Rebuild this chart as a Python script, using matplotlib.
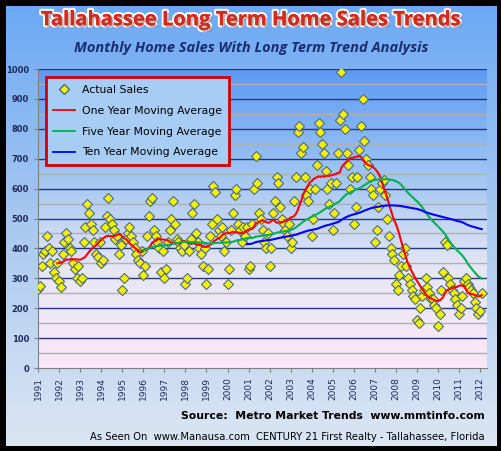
import numpy as np
import pandas as pd
import matplotlib
matplotlib.use("Agg")
import matplotlib.pyplot as plt
import matplotlib.patheffects as pe
from matplotlib.lines import Line2D
from matplotlib.colors import LinearSegmentedColormap

years = list(range(1991, 2013))
sales = {
1991: [265,275,340,380,390,440,400,350,390,320,300,350],
1992: [290,270,380,420,450,430,400,390,350,330,300,340],
1993: [290,300,420,470,550,520,480,460,420,380,370,420],
1994: [350,360,470,510,570,500,480,460,430,440,380,410],
1995: [260,300,430,450,470,440,420,400,380,360,350,390],
1996: [310,340,440,510,560,570,460,440,420,400,320,390],
1997: [300,330,420,460,500,560,480,430,420,400,390,410],
1998: [280,300,390,430,520,550,450,420,400,380,340,400],
1999: [280,330,440,480,610,590,500,460,440,470,390,420],
2000: [280,330,460,520,580,600,480,460,420,470,440,470],
2001: [330,340,480,600,710,620,520,500,460,420,400,450],
2002: [340,400,520,560,640,620,540,500,480,460,440,480],
2003: [400,420,560,640,790,810,720,740,640,580,560,600],
2004: [440,500,600,680,820,790,750,720,660,600,550,620],
2005: [460,520,620,720,830,990,850,800,720,680,600,640],
2006: [480,540,640,730,810,900,760,700,680,640,600,580],
2007: [420,460,540,600,620,630,580,500,440,400,380,360],
2008: [280,260,310,340,380,400,340,300,280,260,240,230],
2009: [160,150,200,240,260,300,270,250,230,230,210,200],
2010: [140,180,260,320,420,410,300,280,260,250,230,210],
2011: [180,200,240,290,300,280,270,260,250,220,200,180],
2012: [190,250],
}
t, v = [], []
for y in years:
    for m, val in enumerate(sales[y]):
        t.append(y + m / 12)
        v.append(val)
s = pd.Series(v, index=t)
ma1 = s.rolling(12).mean()
ma5 = s.rolling(60).mean()
ma10 = s.rolling(120).mean()

fig = plt.figure(figsize=(5.02, 4.51), dpi=100)
bg = fig.add_axes([0, 0, 1, 1], zorder=-10)
grad = np.linspace(0, 1, 256).reshape(-1, 1)
cm_fig = LinearSegmentedColormap.from_list("f", ["#6aa8f5", "#a9c9f0", "#dde7f4"])
bg.imshow(grad, aspect="auto", cmap=cm_fig, extent=[0, 1, 0, 1], origin="upper")
bg.set_xlim(0, 1); bg.set_ylim(0, 1); bg.axis("off")
bg.add_patch(plt.Rectangle((0.004, 0.005), 0.992, 0.99, fill=False, ec="black", lw=5))

ax = fig.add_axes([0.076, 0.184, 0.894, 0.663])
cm_ax = LinearSegmentedColormap.from_list("a", ["#5b9af5", "#9cc3f2", "#e6e6f5", "#fbe8f8"])
ax.imshow(grad, aspect="auto", cmap=cm_ax, extent=[1991, 2012.33, 0, 1000], origin="upper", zorder=0)
ax.set_xlim(1991, 2012.33); ax.set_ylim(0, 1000)
for yv in range(50, 1000, 100):
    ax.axhline(yv, color="#b0b0b0", lw=1, zorder=1)
for yv in range(100, 1001, 100):
    ax.axhline(yv, color="#1f3a7a", lw=1, zorder=1)

ax.scatter(s.index, s.values, marker="D", s=26, c="#f5f000", edgecolors="#4a6a8a", linewidths=0.8, zorder=3)
ax.plot(ma1.index, ma1.values, color="#ff0000", lw=1.5, zorder=4)
ax.plot(ma5.index, ma5.values, color="#00b050", lw=1.5, zorder=4)
ax.plot(ma10.index, ma10.values, color="#0000ff", lw=1.5, zorder=4)

ax.set_xticks(years)
ax.set_xticklabels([str(y) for y in years], rotation=90, fontsize=6.5, color="#1f2a5a")
ax.set_yticks(range(0, 1001, 100))
ax.set_yticklabels([str(y) for y in range(0, 1001, 100)], fontsize=6, color="#1f2a5a", fontweight="bold")
ax.tick_params(length=3, color="#808080")
for sp in ["top", "right"]:
    ax.spines[sp].set_visible(False)
ax.spines["left"].set_color("#808080"); ax.spines["bottom"].set_color("#808080")

handles = [
    Line2D([], [], marker="D", ls="none", mfc="#f5f000", mec="#4a6a8a", ms=5),
    Line2D([], [], color="#ff0000", lw=1.3),
    Line2D([], [], color="#00b050", lw=1.3),
    Line2D([], [], color="#0000ff", lw=1.3),
]
leg = ax.legend(handles, ["Actual Sales", "One Year Moving Average", "Five Year Moving Average", "Ten Year Moving Average"],
                loc="upper left", bbox_to_anchor=(0.005, 0.99), fontsize=7.8, frameon=True, fancybox=False,
                labelspacing=1.0, handlelength=2.0, borderpad=0.7, handletextpad=0.6)
leg.get_frame().set_edgecolor("#d00000"); leg.get_frame().set_linewidth(2)
leg.get_frame().set_facecolor("#a8cdf5"); leg.get_frame().set_alpha(1)
leg.set_zorder(6)

fig.text(0.5, 0.955, "Tallahassee Long Term Home Sales Trends", ha="center", va="center",
         fontsize=14.5, fontweight="bold", color="#d42a1e", family="Open Sans",
         path_effects=[pe.withStroke(linewidth=3, foreground="white"), pe.withSimplePatchShadow(offset=(1.5, -1.5))])
fig.text(0.5, 0.893, "Monthly Home Sales With Long Term Trend Analysis", ha="center", va="center",
         fontsize=10.5, fontweight="bold", style="italic", color="#1a2d6e", family="Open Sans")
fig.text(0.965, 0.077, "Source:  Metro Market Trends  www.mmtinfo.com", ha="right", va="center",
         fontsize=7.8, fontweight="bold", color="black")
fig.text(0.965, 0.030, "As Seen On  www.Manausa.com  CENTURY 21 First Realty - Tallahassee, Florida", ha="right", va="center",
         fontsize=7.2, color="black")
fig.savefig("out.png", dpi=100)
